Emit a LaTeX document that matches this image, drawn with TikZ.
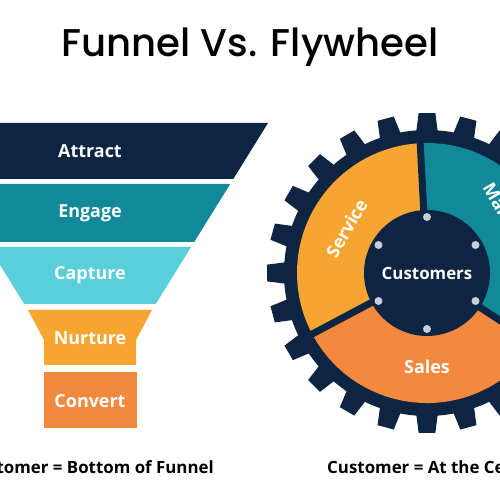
\documentclass[tikz,border=0pt]{standalone}
\usepackage{fontspec}
\setmainfont{Open Sans}
\newfontfamily\titlefont{Poppins}[UprightFont=*-Medium]
\definecolor{navy}{HTML}{0D2543}
\definecolor{tealband}{HTML}{12899A}
\definecolor{cyanband}{HTML}{5ACFDC}
\definecolor{sunny}{HTML}{F6A630}
\definecolor{tangerine}{HTML}{F2893F}
\definecolor{dotgray}{HTML}{C9CED6}
\tikzset{
  bandtext/.style={text=white,font=\bfseries\fontsize{10.2}{12}\selectfont},
  ringtext/.style={text=white,font=\bfseries\fontsize{10.2}{12}\selectfont},
  hubtext/.style={text=white,font=\bfseries\fontsize{9.6}{12}\selectfont},
  captext/.style={text=black,font=\bfseries\fontsize{9.6}{12}\selectfont}
}
\begin{document}
\begin{tikzpicture}[x=0.2mm,y=0.2mm]
    \useasboundingbox (0,0) rectangle (500,500);
    \clip (0,0) rectangle (500,500);
    \node[font=\titlefont\fontsize{22}{26}\selectfont] (title) at (250,453) {Funnel Vs. Flywheel};
    \fill [navy] (-88,377) -- (268,377) -- (233.3,321) -- (-53.3,321) -- cycle;
    \fill [tealband] (-50.2,316) -- (230.2,316) -- (194.2,258) -- (-14.2,258) -- cycle;
    \fill [cyanband] (-11.1,253) -- (191.1,253) -- (155.8,196) -- (24.2,196) -- cycle;
    \fill [sunny] (28,190) -- (152,190) -- (136,160) -- (136,135) -- (44,135) -- (44,160) -- cycle;
    \fill [tangerine] (43.5,128) rectangle (136.5,72);
    \node[bandtext] (attract) at (90,349) {Attract};
    \node[bandtext] (engage) at (90,287) {Engage};
    \node[bandtext] (capture) at (90,224.5) {Capture};
    \node[bandtext] (nurture) at (90,162) {Nurture};
    \node[bandtext] (convert) at (90,99) {Convert};
    \begin{scope}[shift={(427,227)}]
        \foreach \a in {0,15,...,345}
            \fill [navy] (\a-4.4:141) -- (\a-3:160) -- (\a+3:160) -- (\a+4.4:141) -- cycle;
        \fill [navy] (0,0) circle (143);
        \fill [sunny] (0,0) -- (93:130) arc [start angle=93, end angle=208, radius=130] -- cycle;
        \fill [tangerine] (0,0) -- (208:130) arc [start angle=208, end angle=327, radius=130] -- cycle;
        \fill [tealband] (0,0) -- (327:130) arc [start angle=-33, end angle=93, radius=130] -- cycle;
        \foreach \a in {93,208,327}
            \draw [navy, line width=1.4mm] (0,0) -- (\a:134);
        \fill [navy] (0,0) circle (63);
        \foreach \a in {30,90,...,330}
            \fill [dotgray] (\a:56) circle (4);
        \node[hubtext] (customers) at (0,0) {Customers};
        \node[ringtext, rotate=60] (service) at (151:92) {Service};
        \node[ringtext] (sales) at (270:94) {Sales};
        \node[ringtext, rotate=-60] (marketing) at (30:95) {Marketing};
    \end{scope}
    \node[captext, anchor=east] (funnelcap) at (220,33) {Customer = Bottom of Funnel};
    \node[captext, anchor=west] (wheelcap) at (321,33) {Customer = At the Center};
\end{tikzpicture}
\end{document}
